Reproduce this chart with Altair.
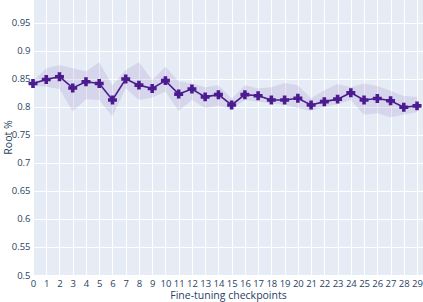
import altair as alt
import pandas as pd

checkpoints = list(range(30))
root_mean = [0.842, 0.849, 0.854, 0.834, 0.845, 0.842, 0.8125, 0.850, 0.839, 0.833,
             0.847, 0.823, 0.832, 0.818, 0.822, 0.8036, 0.822, 0.820, 0.8125, 0.8125,
             0.8155, 0.8036, 0.8095, 0.814, 0.8255, 0.8125, 0.815, 0.811, 0.7995, 0.802]
root_upper = [0.846, 0.869, 0.875, 0.869, 0.864, 0.880, 0.839, 0.866, 0.880, 0.848,
              0.872, 0.846, 0.842, 0.835, 0.839, 0.815, 0.839, 0.833, 0.835, 0.843,
              0.839, 0.8155, 0.830, 0.841, 0.835, 0.842, 0.8375, 0.829, 0.8196, 0.818]
root_lower = [0.838, 0.836, 0.832, 0.792, 0.814, 0.8125, 0.783, 0.833, 0.8125, 0.817,
              0.827, 0.793, 0.8125, 0.798, 0.802, 0.796, 0.8125, 0.8095, 0.8066, 0.8036,
              0.798, 0.793, 0.8005, 0.805, 0.8125, 0.786, 0.789, 0.7816, 0.786, 0.7905]
y_ticks = [0.5, 0.55, 0.6, 0.65, 0.7, 0.75, 0.8, 0.85, 0.9, 0.95]

df = pd.DataFrame({"x": checkpoints, "mean": root_mean, "upper": root_upper, "lower": root_lower})

font = "Open Sans"
tc = "#2a3f5f"

xs = alt.Scale(domain=[0, 29.45], nice=False, zero=False)
ys = alt.Scale(domain=[0.5, 0.991], nice=False, zero=False)

xaxis = alt.Axis(values=checkpoints, title="Fine-tuning checkpoints", labelPadding=3,
                 titlePadding=3, labelFlush=False)
yaxis = alt.Axis(values=y_ticks, title="Root %", labelPadding=3, titleX=-30, titleY=137,
                 titleAngle=-90, titleAlign="center", titleBaseline="top",
                 format="~g", labelFlush=False)

X = alt.X("x:Q", scale=xs, axis=xaxis)

band = alt.Chart(df).mark_area(color="#663399", opacity=0.12).encode(
    x=X, y=alt.Y("lower:Q", scale=ys, axis=yaxis), y2="upper:Q",
)
line = alt.Chart(df).mark_line(color="#4b1b8f", strokeWidth=1.6).encode(
    x=X, y=alt.Y("mean:Q", scale=ys, axis=yaxis)
)
pts = alt.Chart(df).mark_point(shape="cross", filled=True, color="#4b1b8f", size=80, opacity=1).encode(
    x=X, y=alt.Y("mean:Q", scale=ys, axis=yaxis)
)

chart = alt.layer(band, line, pts).properties(
    width=390, height=275,
    autosize=alt.AutoSizeParams(type="none"),
    padding={"left": 33, "top": 0, "right": 0, "bottom": 27},
    background="white",
).configure_view(fill="#e5ecf6", stroke=None).configure_axis(
    grid=True, gridColor="white", gridWidth=1, domain=False, ticks=False,
    labelFont=font, labelFontSize=9.5, labelColor=tc,
    titleFont=font, titleFontSize=10.5, titleFontWeight="normal", titleColor=tc,
)

chart.save("out.html", embed_options={"renderer": "svg", "actions": False})
